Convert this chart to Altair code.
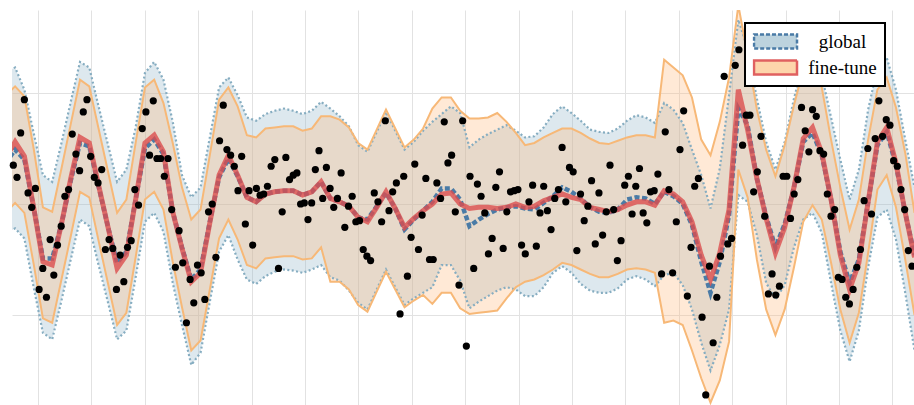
import numpy as np
import pandas as pd
import altair as alt

# Sampling grid of the predictive curves and locations of the observations
X_GRID = np.linspace(-0.6025, 16.4135, 99)
X_OBS = np.linspace(-0.4625, 16.367, 245)

GLOBAL_MEAN = [
    0.37, 0.49, 0.40, -0.03, -0.49, -0.49, -0.18, 0.21, 0.55, 0.52, 0.16,
    -0.20, -0.53, -0.43, 0.04, 0.50, 0.58, 0.45, -0.07, -0.39, -0.68,
    -0.59, -0.16, 0.24, 0.41, 0.25, 0.06, 0.02, 0.09, 0.11, 0.12,
    0.12, 0.08, 0.11, 0.20, 0.05, 0.02, -0.02, -0.12, -0.14, -0.02,
    0.10, -0.04, -0.23, -0.14, -0.06, 0.02, 0.14, 0.14, 0.04, -0.20,
    -0.14, -0.09, -0.05, -0.03, -0.02, -0.04, -0.05, 0.01, 0.07, 0.15,
    0.11, 0.05, -0.03, -0.07, -0.08, -0.05, 0.04, 0.06, 0.05, 0.00,
    0.11, 0.07, 0.00, -0.19, -0.52, -0.80, -0.52, -0.10, 0.86, 0.71,
    0.23, -0.11, -0.39, -0.18, 0.15, 0.56, 0.64, 0.44, 0.04, -0.43,
    -0.71, -0.50, 0.02, 0.53, 0.65, 0.35, -0.08, -0.46,
]
GLOBAL_UPPER = [
    1.19, 1.23, 1.03, 0.64, 0.26, 0.20, 0.55, 0.92, 1.28, 1.23, 0.88,
    0.54, 0.20, 0.31, 0.69, 1.18, 1.28, 1.12, 0.74, 0.26, 0.06,
    0.15, 0.60, 1.05, 1.14, 0.98, 0.78, 0.75, 0.81, 0.84, 0.86,
    0.84, 0.81, 0.84, 0.92, 0.86, 0.79, 0.70, 0.53, 0.47, 0.65,
    0.83, 0.66, 0.49, 0.56, 0.66, 0.74, 0.81, 0.88, 0.82, 0.51,
    0.58, 0.63, 0.67, 0.71, 0.66, 0.60, 0.61, 0.69, 0.81, 0.88,
    0.82, 0.75, 0.67, 0.65, 0.64, 0.68, 0.75, 0.80, 0.78, 0.73,
    0.91, 0.85, 0.73, 0.49, 0.26, -0.04, 0.32, 0.98, 1.66, 1.40,
    0.95, 0.56, 0.31, 0.56, 0.95, 1.27, 1.40, 1.16, 0.78, 0.40,
    0.04, 0.31, 0.85, 1.23, 1.32, 1.03, 0.58, 0.15,
]
GLOBAL_LOWER = [
    -0.26, -0.22, -0.31, -0.75, -1.16, -1.22, -0.87, -0.50, -0.14, -0.20, -0.55,
    -0.88, -1.22, -1.14, -0.66, -0.16, -0.08, -0.25, -0.71, -1.09, -1.45,
    -1.34, -0.88, -0.43, -0.28, -0.50, -0.68, -0.72, -0.65, -0.61, -0.59,
    -0.60, -0.62, -0.59, -0.55, -0.66, -0.69, -0.78, -0.89, -0.95, -0.77,
    -0.59, -0.75, -0.91, -0.85, -0.80, -0.75, -0.55, -0.55, -0.69, -0.94,
    -0.88, -0.83, -0.78, -0.75, -0.77, -0.83, -0.83, -0.75, -0.62, -0.56,
    -0.62, -0.72, -0.78, -0.80, -0.80, -0.76, -0.68, -0.65, -0.68, -0.74,
    -0.64, -0.62, -0.73, -0.95, -1.25, -1.50, -1.27, -0.95, 0.08, 0.02,
    -0.28, -0.71, -0.86, -0.73, -0.39, -0.14, -0.08, -0.26, -0.71, -1.14,
    -1.42, -1.14, -0.57, -0.12, -0.05, -0.32, -0.80, -1.32,
]
FINE_MEAN = [
    0.42, 0.56, 0.43, -0.03, -0.52, -0.55, -0.18, 0.23, 0.60, 0.55, 0.17,
    -0.20, -0.58, -0.46, 0.04, 0.55, 0.62, 0.47, -0.07, -0.40, -0.70,
    -0.62, -0.17, 0.26, 0.44, 0.26, 0.06, 0.02, 0.09, 0.11, 0.12,
    0.12, 0.08, 0.11, 0.20, 0.05, 0.02, -0.02, -0.12, -0.16, -0.03,
    0.11, -0.04, -0.21, -0.13, -0.06, 0.00, 0.09, 0.10, 0.00, -0.04,
    -0.03, -0.03, -0.04, -0.03, 0.00, -0.03, -0.02, 0.03, 0.06, 0.09,
    0.06, 0.04, -0.03, -0.05, -0.07, -0.05, -0.01, 0.02, 0.02, -0.01,
    0.12, 0.09, 0.02, -0.16, -0.46, -0.68, -0.44, -0.05, 1.03, 0.67,
    0.23, -0.13, -0.44, -0.21, 0.15, 0.59, 0.69, 0.46, 0.04, -0.46,
    -0.77, -0.53, 0.02, 0.56, 0.69, 0.37, -0.08, -0.48,
]
FINE_UPPER = [
    0.98, 1.06, 0.97, 0.50, -0.03, -0.07, 0.32, 0.72, 1.12, 1.06, 0.68,
    0.30, -0.08, 0.04, 0.55, 1.05, 1.12, 0.91, 0.55, 0.15, -0.14,
    -0.05, 0.44, 0.94, 1.05, 0.88, 0.62, 0.60, 0.68, 0.69, 0.70,
    0.70, 0.66, 0.68, 0.79, 0.79, 0.76, 0.69, 0.55, 0.49, 0.67,
    0.85, 0.68, 0.51, 0.58, 0.68, 0.86, 0.96, 0.96, 0.84, 0.77,
    0.77, 0.78, 0.82, 0.74, 0.64, 0.53, 0.55, 0.60, 0.64, 0.68,
    0.68, 0.64, 0.59, 0.55, 0.54, 0.57, 0.60, 0.62, 0.62, 0.60,
    1.30, 1.23, 1.16, 0.96, 0.58, 0.44, 0.74, 1.14, 1.79, 1.34,
    0.85, 0.49, 0.25, 0.53, 0.89, 1.21, 1.34, 1.05, 0.58, 0.15,
    -0.23, 0.04, 0.58, 1.03, 1.14, 0.87, 0.46, -0.08,
]
FINE_LOWER = [
    -0.08, 0.01, -0.08, -0.54, -1.03, -1.07, -0.68, -0.29, 0.11, 0.06, -0.33,
    -0.71, -1.09, -0.98, -0.48, 0.04, 0.11, -0.05, -0.52, -0.93, -1.32,
    -1.23, -0.77, -0.31, -0.14, -0.32, -0.55, -0.58, -0.49, -0.48, -0.47,
    -0.47, -0.50, -0.49, -0.39, -0.70, -0.70, -0.77, -0.91, -0.97, -0.79,
    -0.61, -0.77, -0.93, -0.87, -0.82, -0.90, -0.80, -0.80, -0.94, -0.99,
    -0.98, -0.97, -0.96, -0.85, -0.75, -0.70, -0.68, -0.64, -0.59, -0.53,
    -0.55, -0.59, -0.63, -0.66, -0.66, -0.63, -0.59, -0.58, -0.59, -0.62,
    -1.07, -1.05, -1.09, -1.32, -1.57, -1.79, -1.59, -1.24, 0.31, 0.06,
    -0.50, -0.95, -1.18, -0.95, -0.57, -0.16, -0.01, -0.14, -0.53, -0.95,
    -1.25, -0.98, -0.44, 0.13, 0.26, -0.03, -0.50, -1.00,
]
Y_OBS = [
    0.35, 0.24, 0.64, 0.94, 0.10, -0.03, 0.14, -0.77, -0.58, -0.84,
    -0.32, -0.64, -0.37, -0.20, 0.07, 0.13, 0.63, 0.45, 0.30, 0.83,
    0.94, 0.43, 0.24, 0.19, 0.31, -0.41, -0.32, -0.40, -0.77, -0.46,
    -0.70, -0.39, -0.33, 0.13, -0.01, 0.68, 0.83, 0.44, 0.93, 0.41,
    0.41, 0.25, 0.41, -0.05, -0.57, -0.24, -0.53, -1.07, -0.68, -0.89,
    -0.55, -0.62, -0.86, -0.07, 0.00, -0.48, 0.57, 0.89, 0.49, 0.44,
    0.34, 0.12, 0.43, -0.18, 0.12, -0.37, 0.14, 0.08, 0.09, 0.16,
    0.34, 0.40, -0.58, -0.07, 0.42, 0.22, 0.26, 0.28, 0.00, 0.01,
    -0.14, 0.01, 0.31, 0.48, 0.05, 0.33, 0.14, -0.03, 0.05, 0.28,
    -0.21, -0.02, 0.07, -0.16, -0.15, -0.41, -0.47, -0.51, 0.10, 0.02,
    -0.16, 0.75, -0.06, 0.11, 0.19, -0.99, 0.25, -0.65, -0.30, 0.36,
    -0.41, -0.10, 0.23, -0.50, -0.50, 0.19, 0.05, 0.74, 0.37, 0.44,
    -0.07, -0.73, 0.75, -1.28, 0.25, -0.58, 0.18, 0.07, -0.08, -0.45,
    -0.31, 0.15, 0.29, -0.40, -0.07, 0.11, 0.12, 0.13, -0.37, -0.45,
    0.02, 0.17, -0.38, -0.08, 0.16, -0.06, -0.23, 0.05, 0.13, 0.51,
    0.02, 0.33, 0.29, -0.42, 0.09, -0.15, -0.02, 0.21, -0.36, 0.10,
    -0.28, -0.07, 0.35, -0.05, -0.51, -0.33, 0.17, 0.25, -0.09, 0.16,
    0.32, -0.08, -0.17, 0.11, 0.12, 0.27, -0.63, 0.65, 0.13, -0.62,
    -0.16, 0.49, 0.84, -0.83, -0.39, 0.16, 0.23, -1.02, -1.72, -0.56,
    -1.25, -0.84, -0.47, 1.15, -0.36, -0.31, 1.25, 1.39, 0.53, 0.80,
    0.80, 0.11, 0.29, 0.61, -0.11, -0.81, -0.63, -0.82, -0.74, 0.25,
    0.25, -0.13, 0.09, 0.22, 0.87, 0.66, 0.47, 0.85, 0.79, 0.48,
    0.45, 0.09, -0.11, -0.05, -0.66, -0.68, -0.84, -0.90, -0.77, -0.57,
    -0.41, 0.03, 0.50, -0.09, 0.59, 0.93, 0.61, 0.76, 0.71, 0.39,
    0.34, 0.13, -0.05, -0.42, -0.56,
]

MODELS = ["global", "fine-tune"]
X_DOMAIN = [-0.487, 16.404]
Y_DOMAIN = [-1.811, 1.748]
X_GRIDLINES = list(range(0, 17))
Y_GRIDLINES = [-1, 0, 1]

# colours
GLOBAL_FILL = "#8eb2c6"
GLOBAL_EDGE = "#86adc1"
GLOBAL_LINE = "#4a7ba6"
FINE_FILL = "#ffb676"
FINE_EDGE = "#f7b877"
FINE_LINE = "#dc4e4e"
LEGEND_FILLS = ["#bdd3de", "#fdd5ab"]
LEGEND_STROKES = ["#4a7ba6", "#e06060"]

curves = pd.DataFrame({
    "x": X_GRID,
    "g_mean": GLOBAL_MEAN, "g_lo": GLOBAL_LOWER, "g_hi": GLOBAL_UPPER,
    "f_mean": FINE_MEAN, "f_lo": FINE_LOWER, "f_hi": FINE_UPPER,
})
obs = pd.DataFrame({"x": X_OBS, "y": Y_OBS})

x_axis = alt.Axis(values=X_GRIDLINES, labels=False, ticks=False, domain=False,
                  title=None, grid=True)
y_axis = alt.Axis(values=Y_GRIDLINES, labels=False, ticks=False, domain=False,
                  title=None, grid=True)
x_scale = alt.Scale(domain=X_DOMAIN, nice=False, zero=False)
y_scale = alt.Scale(domain=Y_DOMAIN, nice=False, zero=False)


def X():
    return alt.X("x:Q", scale=x_scale, axis=x_axis)


def Y(field):
    return alt.Y(f"{field}:Q", scale=y_scale, axis=y_axis)


base = alt.Chart(curves)

global_band = base.mark_area(color=GLOBAL_FILL, opacity=0.3, clip=True).encode(
    x=X(), y=Y("g_lo"), y2="g_hi:Q")
fine_band = base.mark_area(color=FINE_FILL, opacity=0.3, clip=True).encode(
    x=X(), y=Y("f_lo"), y2="f_hi:Q")


def global_edge(field):
    return base.mark_line(color=GLOBAL_EDGE, strokeWidth=2.2, strokeDash=[2, 2.4],
                          clip=True).encode(x=X(), y=Y(field))


def fine_edge(field):
    return base.mark_line(color=FINE_EDGE, strokeWidth=2, clip=True).encode(
        x=X(), y=Y(field))


global_mean = base.mark_line(color=GLOBAL_LINE, strokeWidth=4.5, strokeDash=[5, 2.5],
                             clip=True).encode(x=X(), y=Y("g_mean"))
fine_mean = base.mark_line(color=FINE_LINE, strokeWidth=5, opacity=0.8,
                           clip=True).encode(x=X(), y=Y("f_mean"))

points = alt.Chart(obs).mark_circle(color="black", size=52, opacity=1).encode(
    x=X(), y=Y("y"))

# legend entries: one symbol per model, taken from the fill/stroke/dash scales
PATCH = "M-1,-0.33H1V0.33H-1Z"
legend = alt.Legend(
    title=None, orient="none", legendX=733, legendY=13, padding=7.5,
    fillColor="white", strokeColor="black", cornerRadius=0,
    labelFont="Liberation Serif", labelFontSize=19, labelColor="black",
    labelAlign="center", labelOffset=44, rowPadding=4, clipHeight=22,
    symbolType=PATCH, symbolSize=1849, symbolStrokeWidth=2.5, symbolOpacity=1,
)
legend_layer = alt.Chart(pd.DataFrame({"model": MODELS})).transform_filter(
    "false"
).mark_point(shape=PATCH, filled=True, size=1849, opacity=1, strokeWidth=2.5).encode(
    fill=alt.Fill("model:N", scale=alt.Scale(domain=MODELS, range=LEGEND_FILLS),
                  legend=legend),
    stroke=alt.Stroke("model:N", scale=alt.Scale(domain=MODELS, range=LEGEND_STROKES),
                      legend=legend),
    strokeDash=alt.StrokeDash("model:N",
                              scale=alt.Scale(domain=MODELS, range=[[4, 2], [1, 0]]),
                              legend=legend),
)

chart = alt.layer(
    global_band, fine_band,
    global_edge("g_lo"), global_edge("g_hi"),
    fine_edge("f_lo"), fine_edge("f_hi"),
    global_mean, fine_mean,
    points, legend_layer,
).properties(
    width=902, height=395,
    padding={"left": 12, "top": 10, "right": 0, "bottom": 0},
    autosize=alt.AutoSizeParams(type="none"),
    background="white",
).configure_view(stroke=None).configure_axis(
    gridColor="#e2e2e2", gridWidth=1
).configure_legend(strokeWidth=2)

chart.save("out.html", embed_options={"renderer": "svg", "actions": False})
